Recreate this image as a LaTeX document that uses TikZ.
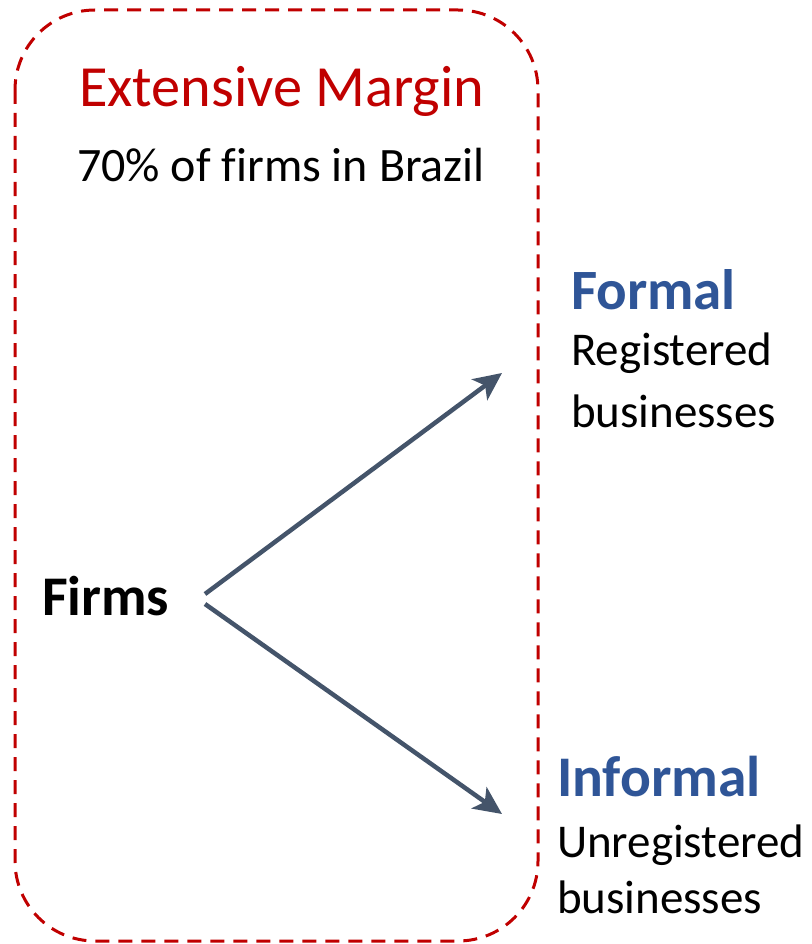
\documentclass[tikz,border=0pt]{standalone}
\usepackage{fontspec}
\setmainfont{Carlito}[Ligatures=NoCommon]
\usetikzlibrary{arrows.meta}
\definecolor{marginred}{HTML}{C00000}
\definecolor{formblue}{HTML}{2F5597}
\definecolor{arrowgray}{HTML}{44546A}
\tikzset{
  lbl/.style={anchor=base west, inner sep=0pt, outer sep=0pt},
  frame/.style={draw=marginred, line width=3pt, dash pattern=on 14pt off 9pt, rounded corners=80pt},
  branch/.style={draw=arrowgray, line width=4.5pt, -{Stealth[length=28pt,width=26pt,inset=7pt]}}
}
\begin{document}
\begin{tikzpicture}[x=1pt,y=-1pt]
\useasboundingbox (0,0) rectangle (811,944);
\draw[frame] (15,10) rectangle (538,941);
\node[lbl, text=marginred, font=\fontsize{58.3}{68}\selectfont] (title) at (79,107) {Extensive Margin};
\node[lbl, font=\fontsize{48}{55}\selectfont] (sub) at (77,182) {70\% of firms in Brazil};
\node[lbl, font=\bfseries\fontsize{56}{62}\selectfont] (firms) at (42,615) {Firms};
\node[lbl, text=formblue, font=\bfseries\fontsize{57}{67}\selectfont] (formal) at (571,309) {Formal};
\node[lbl, font=\fontsize{47}{54}\selectfont] (formal1) at (571,365) {Registered};
\node[lbl, font=\fontsize{47}{54}\selectfont] (formal2) at (571,427) {businesses};
\node[lbl, text=formblue, font=\bfseries\fontsize{57.5}{67}\selectfont] (informal) at (557,796) {Informal};
\node[lbl, font=\fontsize{47}{54}\selectfont] (informal1) at (557,857) {Unregistered};
\node[lbl, font=\fontsize{47}{54}\selectfont] (informal2) at (557,913) {businesses};
\coordinate (s1) at (205,594);
\coordinate (s2) at (205,604);
\coordinate (e1) at (502,373);
\coordinate (e2) at (502,814);
\draw[branch] (s1) -- (e1);
\draw[branch] (s2) -- (e2);
\end{tikzpicture}
\end{document}
